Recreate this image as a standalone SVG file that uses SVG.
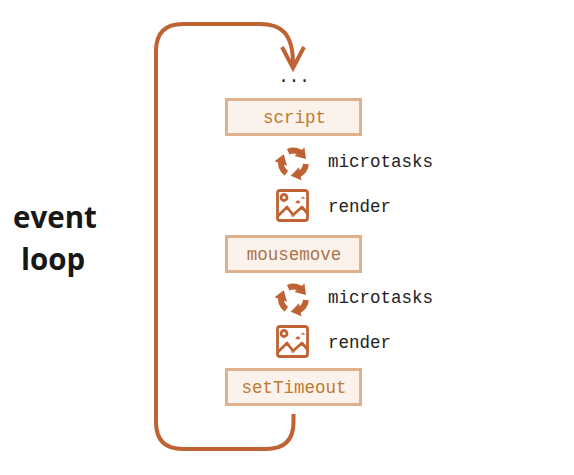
<svg xmlns="http://www.w3.org/2000/svg" width="574" height="475" viewBox="0 0 574 475">
<defs>
<style>
.box{fill:#fbf2ec;stroke:#dfb28d;stroke-width:3}
.m{font-family:"Liberation Mono",monospace;font-size:17.5px}
.bt{fill:#c17a2e;text-anchor:middle}
.lb{fill:#222}
.t{font-family:"Open Sans",sans-serif;font-weight:700;font-size:29.5px;fill:#181717;text-anchor:middle}
.line{fill:none;stroke:#c06334;stroke-width:4;stroke-linecap:butt}
.ic{fill:none;stroke:#c06334;stroke-width:2.8;stroke-linejoin:round}
.icf{fill:#c06334}
</style>
<g id="arr">
<path d="M-5.300 -11.300 A12.500 12.500 0 0 1 8.800 -8.800" fill="none" stroke="#c06334" stroke-width="6"/>
<path class="icf" d="M12.500 -4 L11 -15.500 L1 -7 Z"/>
</g>
<g id="cyc">
<use href="#arr"/>
<use href="#arr" transform="rotate(120)"/>
<use href="#arr" transform="rotate(240)"/>
</g>
<g id="img">
<rect class="ic" x="-15" y="-15" width="30" height="30" rx="2.500"/>
<circle class="ic" cx="-8.500" cy="-8" r="3"/>
<path class="ic" d="M-15 11 L-5.500 1.500 L0.500 9.500 L9.500 1.500 L15 8"/>
<path class="icf" d="M2.500 -3 l3 -2.500 l2.500 2.500 l-2.500 1 Z M8 -7 l2.500 -2 l2.500 2 Z M-1.500 11 l2 -2 l1.500 2 Z"/>
</g>
</defs>
<g id="connectors">
<path class="line" d="M293.500 414 V422 Q293.500 449 266 449 H183 Q156 449 156 422 V51 Q156 24 183 24 H260 C280 24 293 32 293 64"/>
<path class="line" d="M282 47 L293 68 L304 47"/>
</g>
<g id="title"><text class="t" x="55" y="228">event</text><text class="t" x="53" y="270">loop</text></g>
<g id="dots"><text class="m lb" x="294" y="82" text-anchor="middle">...</text></g>
<g id="script"><rect class="box" x="226.500" y="99.500" width="134" height="35"/><text class="m bt" x="294.500" y="123">script</text></g>
<g id="microtasks1"><use href="#cyc" x="293.500" y="163"/><text class="m lb" x="328" y="167">microtasks</text></g>
<g id="render1"><use href="#img" x="292.500" y="205.500"/><text class="m lb" x="328" y="212">render</text></g>
<g id="mousemove"><rect class="box" x="226.500" y="236.500" width="134" height="35"/><text class="m bt" x="294" y="260" style="fill:#a8744a">mousemove</text></g>
<g id="microtasks2"><use href="#cyc" x="293.500" y="299"/><text class="m lb" x="328" y="303">microtasks</text></g>
<g id="render2"><use href="#img" x="292.500" y="341.500"/><text class="m lb" x="328" y="348">render</text></g>
<g id="setTimeout"><rect class="box" x="226.500" y="369.500" width="134" height="35"/><text class="m bt" x="294" y="393">setTimeout</text></g>
</svg>
